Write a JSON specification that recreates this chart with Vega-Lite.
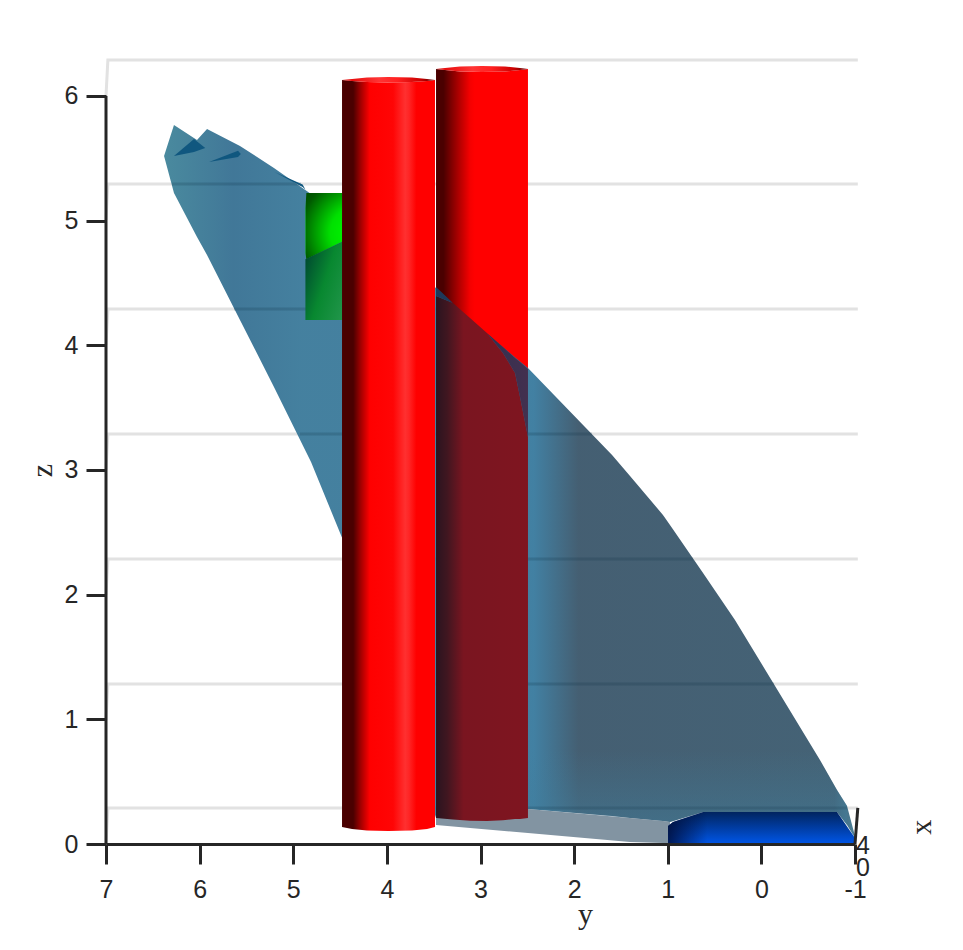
{
"$schema":"https://vega.github.io/schema/vega-lite/v6.json",
"width":749,"height":784,
"autosize":"none",
"padding":{"left":106,"top":60,"right":108,"bottom":106},
"background":"white",
"config":{"view":{"stroke":null}},
"data":{"values":[{"y":7,"z":0}]},
"encoding":{
 "x":{"field":"y","type":"quantitative","scale":{"domain":[7,-1],"nice":false,"zero":false},
  "axis":{"title":"y","values":[7,6,5,4,3,2,1,0,-1],"labelExpr":"replace(datum.label, '−', '-')","grid":false,"domainColor":"#262626","domainWidth":3,"tickColor":"#262626","tickWidth":3,"tickSize":20,"labelColor":"#262626","labelFont":"Liberation Sans","labelFontSize":25,"labelPadding":13,"labelFlush":false,"labelOverlap":false,"titleFont":"Liberation Serif","titleFontWeight":"normal","titleFontSize":30,"titleColor":"#262626","titleX":479,"titleY":55,"zindex":1}},
 "y":{"field":"z","type":"quantitative","scale":{"domain":[0,6.288],"nice":false,"zero":false},
  "axis":{"title":"z","values":[0,1,2,3,4,5,6],"grid":false,"domain":false,"tickColor":"#262626","tickWidth":3,"tickSize":20,"labelColor":"#262626","labelFont":"Liberation Sans","labelFontSize":25,"labelPadding":8,"labelOverlap":false,"titleFont":"Liberation Serif","titleFontWeight":"normal","titleFontSize":30,"titleColor":"#262626","titleAngle":270,"titleX":-49,"titleY":410,"zindex":1}}
},
"layer":[
{"data":{"values":[
 {"grid":"a","y":7,"z":0},{"grid":"a","y":6.98,"z":0.289},{"grid":"a","y":-1.03,"z":0.289},
 {"grid":"b","y":7,"z":0.994},{"grid":"b","y":6.98,"z":1.283},{"grid":"b","y":-1.03,"z":1.283},
 {"grid":"c","y":7,"z":1.997},{"grid":"c","y":6.98,"z":2.286},{"grid":"c","y":-1.03,"z":2.286},
 {"grid":"d","y":7,"z":3.0},{"grid":"d","y":6.98,"z":3.289},{"grid":"d","y":-1.03,"z":3.289},
 {"grid":"e","y":7,"z":4.002},{"grid":"e","y":6.98,"z":4.291},{"grid":"e","y":-1.03,"z":4.291},
 {"grid":"f","y":7,"z":5.005},{"grid":"f","y":6.98,"z":5.294},{"grid":"f","y":-1.03,"z":5.294},
 {"grid":"g","y":7,"z":6.0},{"grid":"g","y":6.98,"z":6.288},{"grid":"g","y":-1.03,"z":6.288}
 ]},
 "mark":{"type":"line","color":"#e2e2e2","strokeWidth":3,"clip":false},
 "encoding":{"detail":{"field":"grid"}}},
{"data":{"values":[
 {"y":3.475,"z":6.216,"z2":0.209},{"y":3.379,"z":6.208,"z2":0.2},{"y":3.219,"z":6.196,"z2":0.193},{"y":2.984,"z":6.192,"z2":0.184},{"y":2.738,"z":6.196,"z2":0.193},{"y":2.578,"z":6.208,"z2":0.2},{"y":2.493,"z":6.216,"z2":0.209}
 ]},
 "mark":{"type":"area","orient":"vertical","color":{"gradient":"linear","x1":0,"y1":0,"x2":1,"y2":0,"stops":[{"offset":0,"color":"#4a0000"},{"offset":0.08,"color":"#4a0000"},{"offset":0.25,"color":"#b00000"},{"offset":0.37,"color":"#f50000"},{"offset":0.42,"color":"#ff0000"},{"offset":1,"color":"#ff0000"}]}},
 "encoding":{"y2":{"field":"z2"}}},
{"data":{"values":[
 {"y":3.475,"z":6.216,"z2":6.216},{"y":3.379,"z":6.224,"z2":6.208},{"y":3.219,"z":6.236,"z2":6.196},{"y":2.984,"z":6.24,"z2":6.192},{"y":2.738,"z":6.236,"z2":6.196},{"y":2.578,"z":6.224,"z2":6.208},{"y":2.493,"z":6.216,"z2":6.216}
 ]},
 "mark":{"type":"area","orient":"vertical","color":{"gradient":"linear","x1":0,"y1":0,"x2":1,"y2":0,"stops":[{"offset":0,"color":"#e00000"},{"offset":0.4,"color":"#ff3535"},{"offset":0.6,"color":"#ff2020"},{"offset":0.85,"color":"#c80000"},{"offset":1,"color":"#500000"}]}},
 "encoding":{"y2":{"field":"z2"}}},
{"data":{"values":[
 {"y":6.38,"z":5.518,"z2":5.518},{"y":6.274,"z":5.767,"z2":5.222},{"y":6.028,"z":5.647,"z2":4.869},{"y":5.921,"z":5.735,"z2":4.724},{"y":5.569,"z":5.599,"z2":4.203},{"y":5.206,"z":5.422,"z2":3.666},{"y":4.81,"z":5.214,"z2":3.064},{"y":4.469,"z":5.021,"z2":2.438},{"y":3.475,"z":4.46,"z2":0.209},{"y":3.112,"z":4.203,"z2":0.2},{"y":2.493,"z":3.818,"z2":0.281},{"y":1.595,"z":3.12,"z2":0.225},{"y":1.403,"z":2.952,"z2":0.209},{"y":1.051,"z":2.639,"z2":0.184},{"y":0.976,"z":2.559,"z2":0.176},{"y":0.623,"z":2.174,"z2":0.257},{"y":0.282,"z":1.797,"z2":0.257},{"y":-0.626,"z":0.674,"z2":0.257},{"y":-0.808,"z":0.433,"z2":0.257},{"y":-0.915,"z":0.305,"z2":0.152},{"y":-1,"z":0.064,"z2":0.048}
 ]},
 "mark":{"type":"area","orient":"vertical","opacity":0.88,"color":{"gradient":"linear","x1":0,"y1":0,"x2":1,"y2":0,"stops":[{"offset":0,"color":"#317a91"},{"offset":0.1,"color":"#27658a"},{"offset":0.2,"color":"#2b6f92"},{"offset":0.5,"color":"#2b6f92"},{"offset":0.535,"color":"#286f96"},{"offset":0.6,"color":"#2b495f"},{"offset":0.97,"color":"#2b4d63"},{"offset":1,"color":"#316f8b"}]}},
 "encoding":{"y2":{"field":"z2"}}},
{"data":{"values":[
 {"y":2.493,"z":0.75,"z2":0.281},{"y":1.403,"z":0.75,"z2":0.209},{"y":0.976,"z":0.75,"z2":0.176},{"y":0.623,"z":0.75,"z2":0.257},{"y":-0.56,"z":0.75,"z2":0.257},{"y":-0.808,"z":0.433,"z2":0.257},{"y":-0.915,"z":0.305,"z2":0.152}
 ]},
 "mark":{"type":"area","orient":"vertical","color":{"gradient":"linear","x1":0,"y1":0,"x2":0,"y2":1,"stops":[{"offset":0,"color":"rgba(64,125,155,0)"},{"offset":1,"color":"rgba(64,125,155,0.5)"}]}},
 "encoding":{"y2":{"field":"z2"}}},
{"data":{"values":[
 {"seg":"a","y":6.295,"z":5.294},{"seg":"a","y":4.917,"z":5.294},
 {"seg":"b","y":5.633,"z":4.291},{"seg":"b","y":4.479,"z":4.291},
 {"seg":"c","y":4.928,"z":3.289},{"seg":"c","y":4.479,"z":3.289},
 {"seg":"d","y":3.475,"z":3.289},{"seg":"d","y":1.809,"z":3.289},
 {"seg":"e","y":3.475,"z":2.286},{"seg":"e","y":0.73,"z":2.286},
 {"seg":"f","y":3.475,"z":1.283},{"seg":"f","y":-0.135,"z":1.283},
 {"seg":"g","y":2.493,"z":0.289},{"seg":"g","y":-0.915,"z":0.289}
 ]},
 "mark":{"type":"line","color":"#1a3a50","opacity":0.2,"strokeWidth":3},
 "encoding":{"detail":{"field":"seg"}}},
{"data":{"values":[
 {"part":"a","y":6.274,"z":5.518,"z2":5.518},{"part":"a","y":6.06,"z":5.655,"z2":5.55},{"part":"a","y":5.94,"z":5.583,"z2":5.583},
 {"part":"b","y":5.9,"z":5.47,"z2":5.47},{"part":"b","y":5.59,"z":5.56,"z2":5.51},{"part":"b","y":5.56,"z":5.535,"z2":5.535},
 {"part":"c","y":5.2,"z":5.39,"z2":5.39},{"part":"c","y":4.9,"z":5.29,"z2":5.27},{"part":"c","y":4.87,"z":5.25,"z2":5.25}
 ]},
 "mark":{"type":"area","orient":"vertical","color":"#10577f"},
 "encoding":{"y2":{"field":"z2"},"detail":{"field":"part"}}},
{"data":{"values":[
 {"y":3.475,"z":0.209,"z2":0.152},{"y":2.493,"z":0.281,"z2":0.088},{"y":1.403,"z":0.209,"z2":0.016},{"y":1.051,"z":0.184,"z2":0.008},{"y":0.976,"z":0.176,"z2":0}
 ]},
 "mark":{"type":"area","orient":"vertical","color":"#8294a2"},
 "encoding":{"y2":{"field":"z2"}}},
{"data":{"values":[
 {"y":0.997,"z":0.144,"z2":0},{"y":0.944,"z":0.176,"z2":0},{"y":0.623,"z":0.257,"z2":0},{"y":-0.808,"z":0.257,"z2":0},{"y":-1,"z":0.048,"z2":0}
 ]},
 "mark":{"type":"area","orient":"vertical","color":{"gradient":"linear","x1":0,"y1":0,"x2":0,"y2":1,"stops":[{"offset":0,"color":"#01245f"},{"offset":1,"color":"#0056e8"}]}},
 "encoding":{"y2":{"field":"z2"}}},
{"data":{"values":[
 {"y":0.997,"z":0.144,"z2":0},{"y":0.944,"z":0.176,"z2":0},{"y":0.623,"z":0.257,"z2":0},{"y":0.3,"z":0.257,"z2":0}
 ]},
 "mark":{"type":"area","orient":"vertical","color":{"gradient":"linear","x1":0,"y1":0,"x2":1,"y2":0,"stops":[{"offset":0,"color":"rgba(0,10,50,0.8)"},{"offset":0.6,"color":"rgba(0,10,50,0)"},{"offset":1,"color":"rgba(0,10,50,0)"}]}},
 "encoding":{"y2":{"field":"z2"}}},
{"data":{"values":[
 {"y":3.475,"z":4.396,"z2":0.209},{"y":3.294,"z":4.339,"z2":0.196},{"y":3.112,"z":4.219,"z2":0.187},{"y":2.931,"z":4.099,"z2":0.184},{"y":2.76,"z":3.938,"z2":0.19},{"y":2.631,"z":3.778,"z2":0.2},{"y":2.578,"z":3.585,"z2":0.2},{"y":2.493,"z":3.265,"z2":0.209}
 ]},
 "mark":{"type":"area","orient":"vertical","color":{"gradient":"linear","x1":0,"y1":0,"x2":1,"y2":0,"stops":[{"offset":0,"color":"#2a1420"},{"offset":0.12,"color":"#401620"},{"offset":0.3,"color":"#7a1520"},{"offset":1,"color":"#7f1520"}]}},
 "encoding":{"y2":{"field":"z2"}}},
{"data":{"values":[
 {"y":3.475,"z":4.468,"z2":4.396},{"y":3.294,"z":4.339,"z2":4.339},{"y":2.931,"z":4.099,"z2":4.099},{"y":2.76,"z":3.986,"z2":3.938},{"y":2.631,"z":3.898,"z2":3.778},{"y":2.578,"z":3.866,"z2":3.585},{"y":2.493,"z":3.81,"z2":3.265}
 ]},
 "mark":{"type":"area","orient":"vertical","color":{"gradient":"linear","x1":0,"y1":0,"x2":1,"y2":0,"stops":[{"offset":0,"color":"#1c3a5c"},{"offset":0.5,"color":"#2f3050"},{"offset":1,"color":"#43304f"}]}},
 "encoding":{"y2":{"field":"z2"}}},
{"data":{"values":[
 {"y":4.86,"z":5.222,"z2":4.69},{"y":4.87,"z":5.1,"z2":4.74},{"y":4.479,"z":5.222,"z2":4.83}
 ]},
 "mark":{"type":"area","orient":"vertical","color":{"gradient":"radial","x1":1,"y1":0.6,"r1":0,"x2":1,"y2":0.6,"r2":1,"stops":[{"offset":0,"color":"#00ff00"},{"offset":0.4,"color":"#00e000"},{"offset":0.85,"color":"#005a00"},{"offset":1,"color":"#004800"}]}},
 "encoding":{"y2":{"field":"z2"}}},
{"data":{"values":[
 {"y":4.87,"z":4.69,"z2":4.203},{"y":4.479,"z":4.83,"z2":4.203}
 ]},
 "mark":{"type":"area","orient":"vertical","color":{"gradient":"linear","x1":0,"y1":0.2,"x2":1,"y2":0.9,"stops":[{"offset":0,"color":"#004a30"},{"offset":0.5,"color":"#088830"},{"offset":1,"color":"#1f9448"}]}},
 "encoding":{"y2":{"field":"z2"}}},
{"data":{"values":[
 {"y":4.479,"z":6.128,"z2":0.136},{"y":4.372,"z":6.12,"z2":0.12},{"y":4.212,"z":6.112,"z2":0.108},{"y":3.988,"z":6.108,"z2":0.104},{"y":3.732,"z":6.112,"z2":0.108},{"y":3.571,"z":6.12,"z2":0.12},{"y":3.486,"z":6.128,"z2":0.136}
 ]},
 "mark":{"type":"area","orient":"vertical","color":{"gradient":"linear","x1":0,"y1":0,"x2":1,"y2":0,"stops":[{"offset":0,"color":"#4a0000"},{"offset":0.12,"color":"#4a0000"},{"offset":0.2,"color":"#a00000"},{"offset":0.3,"color":"#ff0000"},{"offset":0.55,"color":"#ff0505"},{"offset":0.68,"color":"#ff3030"},{"offset":0.72,"color":"#ff2525"},{"offset":0.8,"color":"#ff0000"},{"offset":1,"color":"#ff0000"}]}},
 "encoding":{"y2":{"field":"z2"}}},
{"data":{"values":[
 {"y":4.479,"z":6.128,"z2":6.128},{"y":4.372,"z":6.136,"z2":6.12},{"y":4.212,"z":6.148,"z2":6.112},{"y":3.988,"z":6.152,"z2":6.108},{"y":3.732,"z":6.148,"z2":6.112},{"y":3.571,"z":6.136,"z2":6.12},{"y":3.486,"z":6.128,"z2":6.128}
 ]},
 "mark":{"type":"area","orient":"vertical","color":{"gradient":"linear","x1":0,"y1":0,"x2":1,"y2":0,"stops":[{"offset":0,"color":"#e00000"},{"offset":0.4,"color":"#ff3535"},{"offset":0.6,"color":"#ff2020"},{"offset":0.85,"color":"#c80000"},{"offset":1,"color":"#500000"}]}},
 "encoding":{"y2":{"field":"z2"}}},
{"data":{"values":[{"y":7,"z":0,"z2":6}]},
 "mark":{"type":"rule","color":"#262626","strokeWidth":3},
 "encoding":{"y2":{"field":"z2"}}},
{"data":{"values":[{"y":-1,"z":0},{"y":-1.03,"z":0.289}]},
 "mark":{"type":"line","color":"#262626","strokeWidth":3,"clip":false}},
{"data":{"values":[{"y":-1.085,"z":-0.016,"label":"4"},{"y":-1.085,"z":-0.19,"label":"0"}]},
 "mark":{"type":"text","font":"Liberation Sans","fontSize":25,"color":"#262626","align":"center","baseline":"middle"},
 "encoding":{"text":{"field":"label"}}},
{"data":{"values":[{"y":-1.716,"z":0.135,"label":"x"}]},
 "mark":{"type":"text","font":"Liberation Serif","fontSize":30,"color":"#262626","align":"center","baseline":"middle","angle":270},
 "encoding":{"text":{"field":"label"}}}
]
}
